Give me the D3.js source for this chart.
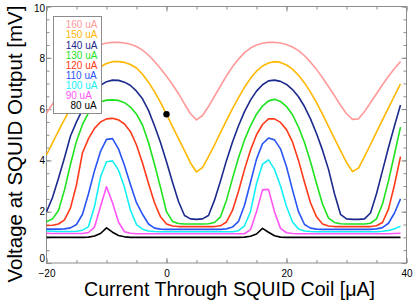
<!DOCTYPE html>
<html>
<head>
<meta charset="utf-8">
<script src="https://cdn.jsdelivr.net/npm/d3@7"></script>
<style>
	body{margin:0;background:#fff;}
	svg{display:block;font-family:"Liberation Sans",Helvetica,Arial,sans-serif;}
</style>
</head>
<body>
<div id="chart"></div>
<script>
// coil current [uA], one sample per uA
const current = [-20,-19,-18,-17,-16,-15,-14,-13,-12,-11,-10,-9,-8,-7,-6,-5,-4,-3,-2,-1,
	0,1,2,3,4,5,6,7,8,9,10,11,12,13,14,15,16,17,18,19,
	20,21,22,23,24,25,26,27,28,29,30,31,32,33,34,35,36,37,38,39];

// SQUID output [mV] for each bias current
const v160 = [5.84,6.2,6.6,7.0,7.4,7.75,8.05,8.28,8.42,8.52, 8.58,8.6,8.6,8.58,8.53,8.44,8.3,8.1,7.86,7.58,
	7.28,6.96,6.6,6.2,5.82,5.58,5.75,6.1,6.5,6.9, 7.3,7.65,7.95,8.2,8.38,8.5,8.57,8.6,8.6,8.58,
	8.52,8.42,8.28,8.08,7.83,7.55,7.22,6.88,6.52,6.15, 5.82,5.6,5.62,5.9,6.25,6.6,6.95,7.28,7.58,7.85];
const v150 = [4.21,4.68,5.15,5.6,6.05,6.45,6.82,7.15,7.42,7.65, 7.78,7.85,7.85,7.82,7.74,7.6,7.36,7.05,6.68,6.26,
	5.8,5.32,4.85,4.38,3.9,3.55,3.72,4.15,4.6,5.08, 5.56,6.02,6.45,6.85,7.2,7.48,7.68,7.8,7.85,7.82,
	7.72,7.56,7.32,7.02,6.66,6.25,5.8,5.33,4.85,4.38, 3.92,3.56,3.7,4.15,4.62,5.1,5.58,6.05,6.52,6.98];
const v140 = [2.0,2.55,3.3,4.1,4.95,5.5,5.98,6.38,6.7,6.93, 7.07,7.13,7.12,7.05,6.92,6.7,6.4,5.95,5.35,4.7,
	3.95,3.15,2.4,1.85,1.72,1.7,1.72,1.85,2.45,3.2, 4.0,4.72,5.35,5.9,6.35,6.7,6.95,7.1,7.13,7.08,
	6.96,6.76,6.48,6.1,5.62,5.05,4.4,3.65,2.7,1.9, 1.72,1.7,1.7,1.72,1.95,2.7,3.6,4.5,5.35,6.16];
const v130 = [1.61,1.72,2.05,2.85,3.85,4.75,5.4,5.85,6.12,6.28, 6.35,6.36,6.34,6.25,6.08,5.8,5.38,4.7,3.85,2.95,
	2.0,1.62,1.54,1.52,1.52,1.52,1.52,1.53,1.58,1.8, 2.45,3.3,4.1,4.8,5.35,5.8,6.12,6.32,6.38,6.3,
	6.1,5.78,5.3,4.7,3.95,3.1,2.3,1.75,1.58,1.53, 1.52,1.52,1.52,1.52,1.55,1.72,2.3,3.2,4.25,5.3];
const v120 = [1.46,1.47,1.52,1.68,2.15,3.05,4.3,4.85,5.25,5.5, 5.62,5.64,5.58,5.42,5.12,4.6,3.9,3.1,2.35,1.8,
	1.52,1.44,1.42,1.42,1.42,1.42,1.42,1.42,1.42,1.45, 1.6,2.05,2.8,3.65,4.4,5.0,5.4,5.62,5.62,5.48,
	5.2,4.72,4.0,3.15,2.35,1.8,1.52,1.44,1.42,1.42, 1.42,1.42,1.42,1.42,1.42,1.45,1.58,2.1,3.05,4.15];
const v110 = [1.32,1.32,1.32,1.33,1.37,1.5,1.9,2.7,3.6,4.35, 4.82,4.85,4.45,3.8,3.05,2.35,1.9,1.52,1.36,1.32,
	1.31,1.31,1.31,1.31,1.31,1.31,1.31,1.31,1.31,1.31, 1.33,1.4,1.62,2.25,3.15,4.05,4.65,4.87,4.8,4.45,
	3.75,2.85,2.0,1.5,1.36,1.32,1.31,1.31,1.31,1.31, 1.31,1.31,1.31,1.31,1.31,1.33,1.38,1.55,1.95,2.5];
const v100 = [1.25,1.24,1.23,1.23,1.23,1.24,1.28,1.42,2.2,3.35, 3.95,3.98,3.62,2.95,2.05,1.5,1.32,1.25,1.23,1.22,
	1.22,1.22,1.22,1.22,1.22,1.22,1.22,1.22,1.22,1.22, 1.22,1.22,1.26,1.45,2.0,3.1,3.85,4.02,3.65,3.0,
	2.2,1.6,1.33,1.25,1.23,1.22,1.22,1.22,1.22,1.22, 1.22,1.22,1.22,1.22,1.22,1.22,1.24,1.27,1.33,1.43];
const v90 = [1.16,1.15,1.15,1.15,1.15,1.15,1.15,1.19,1.4,2.2, 2.97,2.35,1.6,1.22,1.16,1.14,1.14,1.14,1.14,1.14,
	1.14,1.14,1.14,1.14,1.14,1.14,1.14,1.14,1.14,1.14, 1.14,1.14,1.14,1.14,1.3,2.0,2.85,2.87,2.0,1.35,
	1.18,1.15,1.14,1.14,1.14,1.14,1.14,1.14,1.14,1.14, 1.14,1.14,1.14,1.14,1.14,1.14,1.14,1.14,1.15,1.16];
const v80 = [1.0,1.0,1.0,1.0,1.0,1.0,1.0,1.01,1.05,1.15, 1.37,1.2,1.07,1.02,1.0,1.0,1.0,1.0,1.0,1.0,
	1.0,1.0,1.0,1.0,1.0,1.0,1.0,1.0,1.0,1.0, 1.0,1.0,1.0,1.01,1.04,1.13,1.35,1.2,1.06,1.01,
	1.0,1.0,1.0,1.0,1.0,1.0,1.0,1.0,1.0,1.0, 1.0,1.0,1.0,1.0,1.0,1.0,1.0,1.0,1.0,1.0];

const labels = ["160 uA","150 uA","140 uA","130 uA","120 uA","110 uA","100 uA","90 uA","80 uA"];
const colors = ["#ff9a9a","#ffb800","#1c2a8c","#1ee21e","#ff3a1a","#2a55f5","#14f0f5","#ff55f5","#000000"];
const values = [v160,v150,v140,v130,v120,v110,v100,v90,v80];

// operating point marker
const marker = [{x:0, v:5.8}];

const xMajor = [-20,0,20,40];
const yMajor = [0,2,4,6,8,10];

values.forEach((s,i)=>{ if (s.length!=current.length) throw new Error(labels[i]+" has "+s.length+" points"); });

const W = 416, H = 305;
const X = d3.scaleLinear().domain([-20,40]).range([46.5,406.5]);
const Y = d3.scaleLinear().domain([0,10]).range([263,6.5]);
const grey = "#8c8c8c";

const svg = d3.select("#chart").append("svg")
	.attr("width",W).attr("height",H)
	.attr("viewBox","0 0 "+W+" "+H);

// minor + major ticks, all pointing inward
const xMinor = d3.range(-20,40.01,5);
const yMinor = d3.range(0,10.01,0.5);

const axBottom = svg.append("g").attr("transform","translate(0,"+Y(0)+")");
axBottom.append("g").call(d3.axisBottom(X).tickValues(xMinor).tickSize(-3).tickFormat(""));
axBottom.append("g").call(d3.axisBottom(X).tickValues(xMajor).tickSize(-5).tickPadding(7).tickFormat(d3.format("d")));

const axTop = svg.append("g").attr("transform","translate(0,"+Y(10)+")");
axTop.append("g").call(d3.axisTop(X).tickValues(xMinor).tickSize(-3).tickFormat(""));
axTop.append("g").call(d3.axisTop(X).tickValues(xMajor).tickSize(-5).tickFormat(""));

const axLeft = svg.append("g").attr("transform","translate("+X(-20)+",0)");
axLeft.append("g").call(d3.axisLeft(Y).tickValues(yMinor).tickSize(-3).tickFormat(""));
axLeft.append("g").call(d3.axisLeft(Y).tickValues(yMajor).tickSize(-5).tickPadding(1.5).tickFormat(d3.format("d")))
	.selectAll("text").attr("y",d=>d==0?-5:(d==10?2:0));

const axRight = svg.append("g").attr("transform","translate("+X(40)+",0)");
axRight.append("g").call(d3.axisRight(Y).tickValues(yMinor).tickSize(-3).tickFormat(""));
axRight.append("g").call(d3.axisRight(Y).tickValues(yMajor).tickSize(-5).tickFormat(""));

svg.selectAll(".domain").remove();
svg.selectAll(".tick line").style("stroke",grey);
svg.selectAll(".tick text").style("font-size","10px").style("fill","#000")
	.style("font-family","'Liberation Sans',Helvetica,Arial,sans-serif");

svg.append("rect")
	.attr("x",X(-20)).attr("y",Y(10))
	.attr("width",X(40)-X(-20)).attr("height",Y(0)-Y(10))
	.style("fill","none").style("stroke",grey).style("stroke-width",1);

// curves
const line = d3.line().x((d,i)=>X(current[i])).y(d=>Y(d));
svg.append("g").selectAll("path").data(values.slice().reverse()).enter().append("path")
	.attr("d",line)
	.style("fill","none")
	.style("stroke",(d,i)=>colors[colors.length-1-i])
	.style("stroke-width",1.6)
	.style("stroke-linejoin","round");

svg.selectAll(".marker").data(marker).enter().append("circle")
	.attr("cx",d=>X(d.x)).attr("cy",d=>Y(d.v)).attr("r",3.2)
	.style("fill","#000");

// legend
const leg = svg.append("g");
leg.append("rect")
	.attr("x",53.5).attr("y",16.5).attr("width",48).attr("height",97)
	.style("fill","#fff").style("stroke",grey).style("stroke-width",1);
leg.selectAll("text").data(labels).enter().append("text")
	.attr("x",(d,i)=>i==labels.length-1?70.5:65.7)
	.attr("y",(d,i)=>28.3+i*10.1)
	.text(d=>d)
	.style("font-size","10px")
	.style("fill",(d,i)=>colors[i]);

// axis titles
svg.append("text")
	.attr("x",84).attr("y",296)
	.attr("textLength",291).attr("lengthAdjust","spacingAndGlyphs")
	.style("font-size","20px")
	.text("Current Through SQUID Coil [\u03bcA]");

svg.append("text")
	.attr("transform","translate(22,144) rotate(-90)")
	.attr("text-anchor","middle")
	.style("font-size","20.5px")
	.text("Voltage at SQUID Output [mV]");
</script>
</body>
</html>
